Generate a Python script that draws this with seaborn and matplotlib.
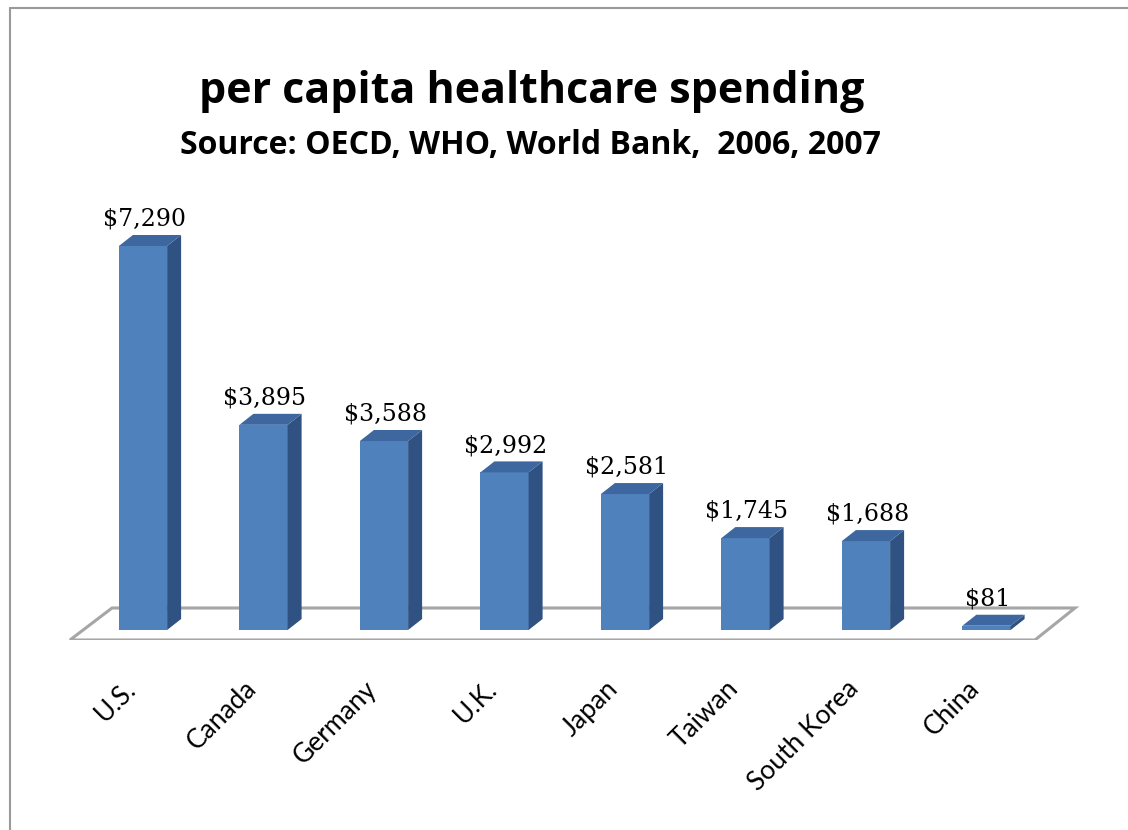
"""
per capita healthcare spending - 3D style bar chart
"""

import matplotlib
matplotlib.use("Agg")
import matplotlib.pyplot as plt
import matplotlib.transforms as mtransforms
from matplotlib.patches import Polygon
import pandas as pd
import seaborn as sns

# Data
countries = ["U.S.", "Canada", "Germany", "U.K.", "Japan", "Taiwan", "South Korea", "China"]
spending = [7290, 3895, 3588, 2992, 2581, 1745, 1688, 81]
title = "per capita healthcare spending"
subtitle = "Source: OECD, WHO, World Bank,  2006, 2007"

FRONT = "#4F81BD"
TOP = "#3D679E"
SIDE = "#2F5283"

sns.set_theme(style="white")
plt.rcParams["font.family"] = ["Lato", "DejaVu Sans"]
plt.rcParams["text.color"] = "black"
plt.rcParams["xtick.color"] = "black"
plt.rcParams["xtick.labelcolor"] = "black"

W, H = 1128, 830
fig = plt.figure(figsize=(W / 100, H / 100), dpi=100)
fig.patch.set_facecolor("white")

# axes box in pixels
px_left, px_right, px_top, px_bottom = 40, 1100, 150, 640
ax = fig.add_axes([px_left / W, (H - px_bottom) / H,
                   (px_right - px_left) / W, (px_bottom - px_top) / H])

df = pd.DataFrame({"country": countries, "spending": spending})
sns.barplot(data=df, x="country", y="spending", color=FRONT, saturation=1,
            width=0.4, ax=ax, zorder=3, linewidth=0)

# scales: category spacing ~120.5 px, 7290 -> 384 px
step_px = 120.5
k = 384 / max(spending)           # px per dollar
x0_px = 143                       # pixel centre of first bar
base_px = 630                     # pixel of zero line
ax.set_xlim((px_left - x0_px) / step_px, (px_right - x0_px) / step_px)
ax.set_ylim((base_px - px_bottom) / k, (base_px - px_top) / k)

# depth offset for the 3d look
dx = 14 / step_px
dy = 11 / k

# floor
n = len(countries)
y_front = ax.get_ylim()[0]
y_back = 22 / k
floor = Polygon([(-0.606, y_front), (n - 0.598, y_front),
                 (n - 0.266, y_back), (-0.257, y_back)],
                closed=True, facecolor="white", edgecolor="#A6A6A6",
                linewidth=2.2, zorder=1)
ax.add_patch(floor)

for p, val in zip(ax.patches[:n], spending):
    x0 = p.get_x()
    x1 = x0 + p.get_width()
    h = p.get_height()
    side = Polygon([(x1, 0), (x1 + dx, dy), (x1 + dx, h + dy), (x1, h)],
                   closed=True, facecolor=SIDE, edgecolor="none", zorder=3)
    top = Polygon([(x0, h), (x0 + dx, h + dy), (x1 + dx, h + dy), (x1, h)],
                  closed=True, facecolor=TOP, edgecolor="none", zorder=3)
    ax.add_patch(side)
    ax.add_patch(top)
    ax.annotate(f"${val:,}", (x0 + p.get_width() / 2, h), xytext=(1, 11),
                textcoords="offset points", ha="center", va="bottom",
                fontsize=17, family=["DejaVu Serif"], color="black")

ax.set_xlabel("")
ax.set_ylabel("")
ax.set_yticks([])
ax.tick_params(axis="x", length=0, pad=26, labelsize=19, labelcolor="black")
shift = mtransforms.ScaledTranslation(-0.2, 0, fig.dpi_scale_trans)
for lab in ax.get_xticklabels():
    lab.set_rotation(45)
    lab.set_ha("right")
    lab.set_rotation_mode("anchor")
    lab.set_transform(lab.get_transform() + shift)
for s in ax.spines.values():
    s.set_visible(False)
ax.patch.set_alpha(0)

fig.text(532 / W, 1 - 103 / H, title, ha="center", va="baseline", color="black",
         fontsize=31, fontweight="bold", family=["Open Sans", "DejaVu Sans"])
fig.text(530 / W, 1 - 154 / H, subtitle, ha="center", va="baseline", color="black",
         fontsize=23, fontweight="bold", family=["Open Sans", "DejaVu Sans"])

# outer frame (top and left edges)
fig.add_artist(plt.Line2D([10 / W, 1], [1 - 8 / H, 1 - 8 / H],
                          transform=fig.transFigure, color="#9A9A9A", lw=1.5))
fig.add_artist(plt.Line2D([10 / W, 10 / W], [0, 1 - 8 / H],
                          transform=fig.transFigure, color="#9A9A9A", lw=1.5))

fig.savefig("out.png", dpi=100)
